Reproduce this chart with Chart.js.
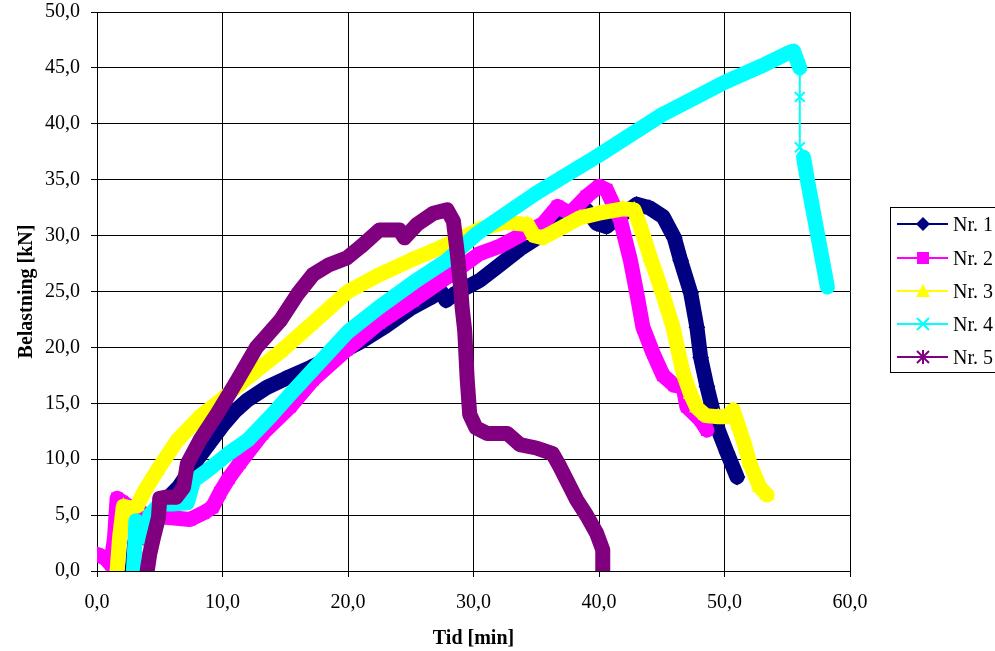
<!DOCTYPE html>
<html>
<head>
<meta charset="utf-8">
<script src="https://cdn.jsdelivr.net/npm/chart.js@4.4.1/dist/chart.umd.min.js"></script>
<style>
  html, body { margin: 0; padding: 0; background: #fff; }
  #wrap { width: 995px; height: 651px; }
</style>
</head>
<body>
<div id="wrap"><canvas id="belastningChart" width="995" height="651"></canvas></div>
<script>
// Serier: Tid [min] og Belastning [kN]
var seriesNames = ['Nr. 1', 'Nr. 2', 'Nr. 3', 'Nr. 4', 'Nr. 5'];

var nr1X = [2.8, 3.0, 3.3, 3.7, 4.2, 5.0, 6.5, 8.0, 9.0, 10.0, 11.0, 12.0, 13.5, 15.0, 17.0, 19.0, 21.0, 23.0, 25.0, 26.5, 27.4, 27.8, 28.5, 30.5, 32.0, 33.7, 35.5, 37.5, 39.0, 39.8, 40.6, 41.5, 42.0, 43.0, 44.0, 45.1, 46.0, 46.5, 47.3, 47.8, 48.1, 48.6, 49.4, 50.2, 51.0];
var nr1Y = [0.0, 2.5, 4.0, 3.0, 4.5, 5.8, 7.5, 10.0, 11.5, 13.0, 14.3, 15.3, 16.4, 17.2, 18.2, 19.3, 20.5, 21.9, 23.5, 24.4, 25.0, 24.2, 24.8, 26.0, 27.3, 28.8, 30.1, 31.4, 32.3, 31.1, 30.8, 31.6, 32.0, 32.8, 32.5, 31.7, 29.8, 27.8, 24.9, 21.8, 19.1, 16.5, 12.9, 10.6, 8.4];

var nr2X = [0.0, 0.6, 1.1, 1.4, 1.6, 2.0, 2.5, 3.0, 4.0, 5.5, 7.4, 8.5, 9.2, 9.8, 10.5, 11.4, 13.2, 15.4, 17.2, 19.9, 22.5, 25.2, 27.9, 30.5, 32.0, 34.5, 35.5, 36.7, 37.7, 39.0, 40.0, 40.6, 41.7, 42.5, 43.0, 43.5, 44.3, 45.1, 46.0, 46.7, 47.0, 48.1, 48.6];
var nr2Y = [1.5, 1.2, 0.6, 3.0, 6.5, 6.2, 5.8, 5.5, 5.0, 4.8, 4.6, 5.2, 5.7, 7.0, 8.3, 9.7, 12.3, 14.7, 17.1, 19.8, 22.2, 24.2, 26.3, 28.4, 29.0, 30.5, 31.0, 32.6, 32.0, 33.5, 34.4, 34.1, 31.4, 27.8, 24.9, 21.8, 19.5, 17.5, 16.6, 16.5, 14.7, 13.5, 12.6];

var nr3X = [1.6, 1.8, 2.1, 2.6, 3.2, 3.7, 4.8, 6.4, 8.2, 10.0, 12.0, 14.6, 17.0, 20.0, 22.5, 25.0, 27.5, 29.5, 30.5, 32.5, 34.3, 34.8, 35.5, 36.5, 38.5, 40.0, 41.9, 42.8, 43.3, 44.1, 44.9, 45.9, 46.7, 47.3, 47.8, 48.5, 49.5, 50.2, 50.7, 51.1, 51.5, 52.0, 52.8, 53.4];
var nr3Y = [0.0, 3.0, 5.8, 5.6, 5.8, 7.0, 9.0, 11.7, 13.8, 15.4, 17.3, 19.6, 22.0, 25.0, 26.5, 27.8, 29.0, 30.0, 30.6, 31.2, 31.0, 30.0, 29.8, 30.4, 31.6, 32.0, 32.4, 32.3, 30.8, 28.0, 25.4, 21.8, 17.7, 15.8, 14.6, 13.9, 13.8, 13.8, 14.4, 13.0, 11.7, 9.7, 7.5, 6.8];

var nr4X = [2.9, 3.0, 3.1, 3.4, 3.8, 4.2, 5.0, 6.0, 7.2, 7.7, 8.8, 10.6, 12.0, 13.8, 15.4, 17.2, 20.0, 22.5, 25.2, 27.9, 30.3, 35.0, 40.0, 45.0, 50.0, 53.0, 55.0, 55.5, 56.0, 56.0, 56.0, 56.3, 56.6, 57.1, 57.6, 58.2];
var nr4Y = [0.0, 2.0, 4.5, 3.5, 3.0, 5.0, 6.0, 6.0, 6.1, 8.1, 9.0, 10.6, 11.7, 13.8, 15.8, 18.0, 21.4, 23.6, 25.8, 27.8, 30.2, 33.8, 37.2, 40.8, 43.7, 45.2, 46.3, 46.5, 45.0, 42.4, 37.9, 37.0, 35.0, 32.0, 29.0, 25.4];
var nr4Sparse = [28, 29, 30];

var nr5X = [4.0, 4.2, 4.5, 4.9, 5.0, 5.5, 6.3, 6.9, 7.2, 8.2, 9.6, 11.2, 12.7, 14.6, 16.0, 17.2, 18.5, 19.9, 21.0, 22.5, 24.1, 24.5, 25.5, 26.8, 27.9, 28.4, 28.7, 29.0, 29.1, 29.3, 29.5, 29.7, 30.2, 31.1, 32.7, 33.7, 35.0, 36.3, 36.9, 38.2, 39.0, 39.8, 40.3, 40.3];
var nr5Y = [0.0, 1.5, 3.0, 4.8, 6.5, 6.6, 6.6, 7.5, 9.6, 11.7, 14.1, 17.1, 20.0, 22.4, 24.8, 26.5, 27.4, 28.0, 29.0, 30.5, 30.5, 29.8, 31.0, 32.0, 32.3, 31.3, 28.5, 25.0, 23.5, 21.5, 17.1, 14.0, 12.8, 12.3, 12.3, 11.3, 11.0, 10.5, 9.3, 6.4, 5.0, 3.4, 1.9, 0.1];

var xTicks = [0, 10, 20, 30, 40, 50, 60];
var yTicks = [0, 5, 10, 15, 20, 25, 30, 35, 40, 45, 50];

var colors = ['#000080', '#ff00ff', '#ffff00', '#00ffff', '#800080'];
var markers = ['rectRot', 'rect', 'triangle', 'crossRot', 'star'];

function toPoints(xs, ys) {
    return xs.map(function (x, i) { return { x: x, y: ys[i] }; });
}

function komma(v) {
    return v.toFixed(1).replace('.', ',');
}

var allX = [nr1X, nr2X, nr3X, nr4X, nr5X];
var allY = [nr1Y, nr2Y, nr3Y, nr4Y, nr5Y];
var bandWidth = 15;

var datasets = seriesNames.map(function (name, i) {
    var ds = {
        label: name,
        data: toPoints(allX[i], allY[i]),
        showLine: true,
        borderColor: colors[i],
        backgroundColor: colors[i],
        borderWidth: bandWidth,
        borderJoinStyle: 'round',
        borderCapStyle: 'round',
        tension: 0,
        pointStyle: markers[i],
        pointRadius: 7,
        pointBorderWidth: 2,
        pointBorderColor: colors[i],
        pointBackgroundColor: colors[i],
        order: 5 - i
    };
    if (i === 3) {
        ds.segment = {
            borderWidth: function (ctx) { return nr4Sparse.indexOf(ctx.p0DataIndex) >= 0 ? 2 : bandWidth; }
        };
    }
    return ds;
});

// Forklaring (legend) som i Excel
var legendPlugin = {
    id: 'excelLegend',
    afterDraw: function (chart) {
        var ctx = chart.ctx;
        ctx.save();
        ctx.strokeStyle = '#000';
        ctx.lineWidth = 1;
        ctx.strokeRect(890.5, 207.5, 130, 165);
        var rows = [224, 258, 291, 324, 357];
        seriesNames.forEach(function (name, i) {
            var y = rows[i];
            ctx.strokeStyle = colors[i];
            ctx.fillStyle = colors[i];
            ctx.lineWidth = 2;
            ctx.beginPath();
            ctx.moveTo(897, y);
            ctx.lineTo(948, y);
            ctx.stroke();
            drawMarker(ctx, markers[i], 923, y, 6);
            ctx.fillStyle = '#000';
            ctx.font = '20px "Liberation Serif"';
            ctx.textBaseline = 'middle';
            ctx.textAlign = 'left';
            ctx.fillText(name, 953, y + 2);
        });
        ctx.restore();
    }
};

function drawMarker(ctx, style, x, y, r) {
    ctx.beginPath();
    if (style === 'rectRot') {
        ctx.moveTo(x, y - r - 1); ctx.lineTo(x + r + 1, y); ctx.lineTo(x, y + r + 1); ctx.lineTo(x - r - 1, y);
        ctx.closePath(); ctx.fill();
    } else if (style === 'rect') {
        ctx.fillRect(x - r, y - r, 2 * r, 2 * r);
    } else if (style === 'triangle') {
        ctx.moveTo(x, y - r - 1); ctx.lineTo(x + r + 1, y + r); ctx.lineTo(x - r - 1, y + r);
        ctx.closePath(); ctx.fill();
    } else if (style === 'crossRot') {
        ctx.moveTo(x - r, y - r); ctx.lineTo(x + r, y + r);
        ctx.moveTo(x + r, y - r); ctx.lineTo(x - r, y + r);
        ctx.stroke();
    } else {
        ctx.moveTo(x - r, y - r); ctx.lineTo(x + r, y + r);
        ctx.moveTo(x + r, y - r); ctx.lineTo(x - r, y + r);
        ctx.moveTo(x, y - r - 1); ctx.lineTo(x, y + r + 1);
        ctx.stroke();
    }
}

var tickFont = { family: 'Liberation Serif', size: 20 };
var titleFont = { family: 'Liberation Serif', size: 20, weight: 'bold' };

var ctxBel = document.getElementById('belastningChart').getContext('2d');
var belastningChart = new Chart(ctxBel, {
    type: 'scatter',
    data: { datasets: datasets },
    options: {
        responsive: false,
        animation: false,
        devicePixelRatio: 1,
        layout: { padding: { left: 0, right: 145, top: 12, bottom: 0 } },
        plugins: {
            legend: { display: false },
            tooltip: { enabled: false }
        },
        scales: {
            x: {
                type: 'linear',
                min: 0,
                max: 60,
                afterFit: function (scale) {
                    scale.height = 80;
                    scale.paddingLeft = 0;
                    scale.paddingRight = 0;
                },
                afterBuildTicks: function (scale) {
                    scale.ticks = xTicks.map(function (v) { return { value: v }; });
                },
                ticks: {
                    callback: function (v) { return komma(v); },
                    color: '#000',
                    font: tickFont,
                    padding: 14,
                    maxRotation: 0
                },
                grid: { color: '#000', lineWidth: 1, tickLength: 6 },
                border: { color: '#000', width: 1 },
                title: {
                    display: true,
                    text: 'Tid [min]',
                    color: '#000',
                    font: titleFont,
                    padding: { top: 0, bottom: 0 }
                }
            },
            y: {
                type: 'linear',
                min: 0,
                max: 50,
                afterFit: function (scale) {
                    scale.width = 97;
                    scale.paddingTop = 0;
                    scale.paddingBottom = 0;
                },
                afterBuildTicks: function (scale) {
                    scale.ticks = yTicks.map(function (v) { return { value: v }; });
                },
                ticks: {
                    callback: function (v) { return komma(v); },
                    color: '#000',
                    font: tickFont,
                    padding: 11
                },
                grid: { color: '#000', lineWidth: 1, tickLength: 6 },
                border: { color: '#000', width: 1 },
                title: {
                    display: true,
                    text: 'Belastning [kN]',
                    color: '#000',
                    font: titleFont,
                    padding: { top: 15, bottom: 0 }
                }
            }
        }
    },
    plugins: [legendPlugin]
});
</script>
</body>
</html>
